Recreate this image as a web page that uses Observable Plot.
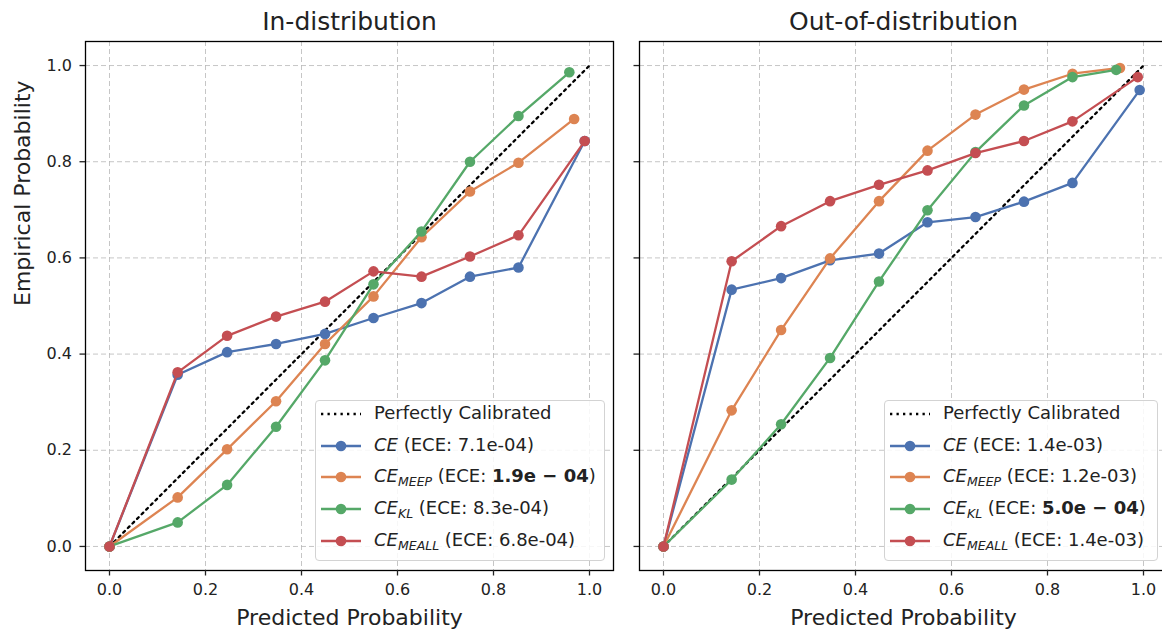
<!DOCTYPE html>
<html>
<head>
<meta charset="utf-8">
<script src="https://cdn.jsdelivr.net/npm/d3@7"></script>
<script src="https://cdn.jsdelivr.net/npm/@observablehq/plot@0.6"></script>
<style>
  body { margin: 0; background: #fff; overflow: hidden; }
  #wrap { position: relative; width: 1162px; height: 635px; overflow: hidden; font-family: "DejaVu Sans", sans-serif; }
  .panel { position: absolute; top: 0; }
  .legend { position: absolute; border: 1px solid #d3d3d3; border-radius: 4px; background: rgba(255,255,255,0.85); box-sizing: border-box; }
  .row { position: absolute; left: 0; height: 30px; width: 100%; font-size: 18px; color: #222; white-space: nowrap; }
  .row svg { position: absolute; left: 4px; top: 0; }
  .row .lbl { position: absolute; left: 58px; top: 4px; line-height: 20px; }
  .row i { font-style: italic; }
  .row sub { font-size: 12.5px; font-style: italic; vertical-align: -4px; line-height: 0; }
  .row b { font-weight: bold; }
</style>
</head>
<body>
<div id="wrap"></div>
<script>
// ---- data ----
const methods = ["CE", "CE_MEEP", "CE_KL", "CE_MEALL"];
const methodBase = ["CE", "CE", "CE", "CE"];
const methodSub = ["", "MEEP", "KL", "MEALL"];
const colors = ["#4C72B0", "#DD8452", "#55A868", "#C44E52"];

const binX = [0.0, 0.142, 0.245, 0.347, 0.449, 0.550, 0.650, 0.751, 0.852];
const inLastX = [0.990, 0.968, 0.958, 0.990];
const outLastX = [0.992, 0.951, 0.943, 0.988];

const inCE     = [0.0, 0.357, 0.404, 0.421, 0.442, 0.475, 0.506, 0.561, 0.580, 0.843];
const inMEEP   = [0.0, 0.102, 0.202, 0.302, 0.421, 0.520, 0.643, 0.738, 0.798, 0.889];
const inKL     = [0.0, 0.050, 0.128, 0.249, 0.387, 0.545, 0.655, 0.800, 0.895, 0.986];
const inMEALL  = [0.0, 0.362, 0.438, 0.478, 0.509, 0.572, 0.561, 0.603, 0.647, 0.843];

const outCE    = [0.0, 0.534, 0.558, 0.595, 0.609, 0.674, 0.685, 0.717, 0.756, 0.949];
const outMEEP  = [0.0, 0.283, 0.450, 0.599, 0.718, 0.823, 0.898, 0.950, 0.983, 0.995];
const outKL    = [0.0, 0.139, 0.254, 0.392, 0.551, 0.699, 0.820, 0.917, 0.976, 0.991];
const outMEALL = [0.0, 0.593, 0.666, 0.718, 0.752, 0.782, 0.818, 0.843, 0.884, 0.976];

const perfectX = [0, 1];
const xTicks = [0, 0.2, 0.4, 0.6, 0.8, 1.0];
const yTicks = [0, 0.2, 0.4, 0.6, 0.8, 1.0];

const titles = ["In-distribution", "Out-of-distribution"];
const xLabel = "Predicted Probability";
const yLabel = "Empirical Probability";
const perfectLabel = "Perfectly Calibrated";
const inECE = ["7.1e-04", "1.9e − 04", "8.3e-04", "6.8e-04"];
const inBest = 1;
const outECE = ["1.4e-03", "1.2e-03", "5.0e − 04", "1.4e-03"];
const outBest = 2;

// ---- drawing ----
function rowsFor(ys, lastX) {
  return methods.flatMap((m, i) => ys[i].map((y, j) => ({
    method: m, x: j < binX.length ? binX[j] : lastX[i], y
  })));
}

function makePanel(ys, lastX, title, showY) {
  const data = rowsFor(ys, lastX);
  const gridStyle = { stroke: "#b8b8b8", strokeOpacity: 0.8, strokeDasharray: "5,3", strokeWidth: 1 };
  const marks = [
    Plot.gridX(xTicks, gridStyle),
    Plot.gridY(yTicks, gridStyle),
    Plot.line(perfectX.map(v => ({ x: v, y: v })), { x: "x", y: "y", stroke: "#000", strokeWidth: 2.3, strokeDasharray: "2.3,4.2" }),
  ];
  methods.forEach(m => {
    const s = data.filter(d => d.method === m);
    marks.push(Plot.line(s, { x: "x", y: "y", stroke: "method", strokeWidth: 2.3 }));
    marks.push(Plot.dot(s, { x: "x", y: "y", fill: "method", r: 5.3, stroke: "none" }));
  });
  marks.push(
    Plot.frame({ stroke: "#000", strokeWidth: 1.3 }),
    Plot.axisX(xTicks, { tickFormat: d3.format(".1f"), tickSize: 5.5, tickPadding: 8, fontSize: 16, label: null, strokeWidth: 1.3 }),
    Plot.axisY(yTicks, { tickFormat: showY ? d3.format(".1f") : () => "", tickSize: 5.5, tickPadding: 8, fontSize: 16, label: null, strokeWidth: 1.3 }),
    Plot.text([title], { frameAnchor: "top", dy: -29, fontSize: 25, fill: "#222" }),
    Plot.text([xLabel], { frameAnchor: "bottom", dy: 54, fontSize: 22, fill: "#222" })
  );
  if (showY) marks.push(Plot.text([yLabel], { frameAnchor: "left", dx: -63, rotate: -90, fontSize: 22, fill: "#222" }));
  return Plot.plot({
    width: 626, height: 635,
    marginLeft: 85, marginRight: 13, marginTop: 41, marginBottom: 65,
    x: { domain: [-0.05, 1.05] },
    y: { domain: [-0.05, 1.05] },
    color: { domain: methods, range: colors },
    style: { fontFamily: "DejaVu Sans", color: "#222", background: "transparent", overflow: "visible" },
    marks
  });
}

function makeLegend(left, top, width, ece, best) {
  const box = document.createElement("div");
  box.className = "legend";
  box.style.left = left + "px"; box.style.top = top + "px";
  box.style.width = width + "px"; box.style.height = "161px";
  const entries = [{ perfect: true }].concat(methods.map((m, i) => ({ i })));
  entries.forEach((e, k) => {
    const row = document.createElement("div");
    row.className = "row";
    row.style.top = (k * 31.7 - 2) + "px";
    let svg;
    if (e.perfect) {
      svg = `<svg width="42" height="30"><line x1="1" x2="41" y1="15" y2="15" stroke="#000" stroke-width="2.3" stroke-dasharray="2.3,4.2"/></svg>`;
      row.innerHTML = svg + `<span class="lbl">${perfectLabel}</span>`;
    } else {
      const c = colors[e.i];
      svg = `<svg width="42" height="30"><line x1="1" x2="41" y1="15" y2="15" stroke="${c}" stroke-width="2.3"/><circle cx="21" cy="15" r="5.3" fill="${c}"/></svg>`;
      const name = `<i>${methodBase[e.i]}</i>` + (methodSub[e.i] ? `<sub>${methodSub[e.i]}</sub>` : "");
      const val = e.i === best ? `<b>${ece[e.i]}</b>` : ece[e.i];
      row.innerHTML = svg + `<span class="lbl">${name} (ECE: ${val})</span>`;
    }
    box.appendChild(row);
  });
  return box;
}

const wrap = document.getElementById("wrap");
const p1 = makePanel([inCE, inMEEP, inKL, inMEALL], inLastX, titles[0], true);
p1.classList.add("panel"); p1.style.left = "0px";
const p2 = makePanel([outCE, outMEEP, outKL, outMEALL], outLastX, titles[1], false);
p2.classList.add("panel"); p2.style.left = "554px";
wrap.appendChild(p1);
wrap.appendChild(p2);
wrap.appendChild(makeLegend(315, 400, 290, inECE, inBest));
wrap.appendChild(makeLegend(884, 400, 274, outECE, outBest));
</script>
</body>
</html>
